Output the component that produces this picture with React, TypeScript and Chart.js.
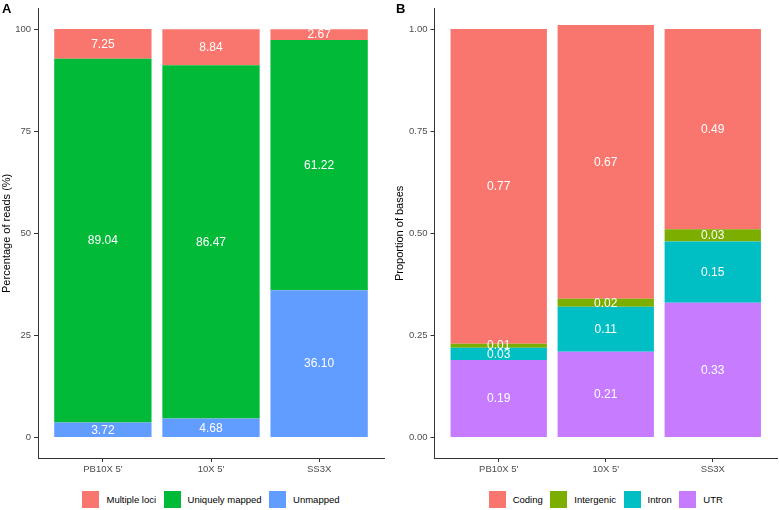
import React, { useEffect, useRef } from "react";
import { Chart, registerables } from "chart.js";

Chart.register(...registerables);

const FONT = "'Liberation Sans', Arial, Helvetica, sans-serif";

// Library preparations on the x axis
const samples = ["PB10X 5'", "10X 5'", "SS3X"];

// Panel A: read mapping (percentage of reads)
const readSeries = ["Multiple loci", "Uniquely mapped", "Unmapped"];
const readColors = ["#F8766D", "#00BA38", "#619CFF"];
const multipleLoci = [7.25, 8.84, 2.67];
const uniquelyMapped = [89.04, 86.47, 61.22];
const unmapped = [3.72, 4.68, 36.1];
const readTicks = [0, 25, 50, 75, 100];

// Panel B: base composition (proportion of bases)
const baseSeries = ["Coding", "Intergenic", "Intron", "UTR"];
const baseColors = ["#F8766D", "#7CAE00", "#00BFC4", "#C77CFF"];
const coding = [0.77, 0.67, 0.49];
const intergenic = [0.01, 0.02, 0.03];
const intron = [0.03, 0.11, 0.15];
const utr = [0.19, 0.21, 0.33];
const baseTicks = [0, 0.25, 0.5, 0.75, 1];

type Series = { name: string; color: string; values: number[] };

// white value text in the middle of every segment
const valueLabels = {
  id: "valueLabels",
  afterDatasetsDraw(chart: any) {
    const ctx = chart.ctx;
    ctx.save();
    ctx.fillStyle = "#ffffff";
    ctx.font = `12px ${FONT}`;
    ctx.textAlign = "center";
    ctx.textBaseline = "middle";
    chart.data.datasets.forEach((ds: any, di: number) => {
      const meta = chart.getDatasetMeta(di);
      meta.data.forEach((bar: any, i: number) => {
        const v = ds.data[i].y as number;
        ctx.fillText(v.toFixed(2), bar.x, (bar.y + bar.base) / 2 + 0.5);
      });
    });
    ctx.restore();
  },
};

type PanelProps = {
  tag: string;
  left: number;
  width: number;
  axisWidth: number;
  rightPad: number;
  yTitle: string;
  titlePad: number;
  yMin: number;
  yMax: number;
  ticks: number[];
  tickDigits: number;
  stack: Series[]; // bottom segment first
  legend: Series[];
};

const CANVAS_H = 476;
const PLOT_TOP = 2;
const PLOT_BOTTOM = 458;

function Panel(p: PanelProps) {
  const ref = useRef<HTMLCanvasElement | null>(null);

  useEffect(() => {
    if (!ref.current) return;
    const tickFont = { family: FONT, size: 9.5 };
    const chart = new Chart(ref.current, {
      type: "bar",
      data: {
        datasets: p.stack.map((s) => ({
          label: s.name,
          data: s.values.map((v, i) => ({ x: i + 1, y: v })),
          backgroundColor: s.color,
          borderWidth: 0,
          barPercentage: 0.9,
          categoryPercentage: 1,
        })),
      },
      options: {
        responsive: false,
        animation: false,
        devicePixelRatio: 1,
        layout: {
          autoPadding: false,
          padding: { top: PLOT_TOP, right: p.rightPad, bottom: 0, left: 0 },
        },
        plugins: { legend: { display: false }, tooltip: { enabled: false } },
        scales: {
          x: {
            type: "linear",
            stacked: true,
            offset: false,
            min: 0.4,
            max: samples.length + 0.6,
            afterBuildTicks: (s: any) => {
              s.ticks = samples.map((_, i) => ({ value: i + 1 }));
            },
            afterFit: (s: any) => {
              s.height = CANVAS_H - PLOT_BOTTOM;
            },
            ticks: {
              callback: (v: any) => samples[Number(v) - 1],
              color: "#4D4D4D",
              font: tickFont,
              padding: 2,
              maxRotation: 0,
              autoSkip: false,
            },
            grid: {
              offset: false,
              drawOnChartArea: false,
              drawTicks: true,
              tickLength: 4,
              color: "#333333",
            },
            border: { display: true, color: "#333333", width: 1 },
          },
          y: {
            type: "linear",
            stacked: true,
            min: p.yMin,
            max: p.yMax,
            afterBuildTicks: (s: any) => {
              s.ticks = p.ticks.map((v) => ({ value: v }));
            },
            afterFit: (s: any) => {
              s.width = p.axisWidth;
            },
            ticks: {
              callback: (v: any) => Number(v).toFixed(p.tickDigits),
              color: "#4D4D4D",
              font: tickFont,
              padding: 3,
            },
            title: {
              display: true,
              text: p.yTitle,
              color: "#000000",
              font: { family: FONT, size: 11, lineHeight: 1.2 },
              padding: { top: p.titlePad, bottom: 0 },
            },
            grid: { drawOnChartArea: false, drawTicks: true, tickLength: 4, color: "#333333" },
            border: { display: true, color: "#333333", width: 1 },
          },
        },
      } as any,
      plugins: [valueLabels],
    });
    return () => chart.destroy();
  }, []);

  const plotLeft = p.axisWidth;
  const plotWidth = p.width - p.axisWidth - p.rightPad;

  return (
    <div style={{ position: "absolute", left: p.left, top: 0, width: p.width, height: 510 }}>
      <canvas
        ref={ref}
        width={p.width}
        height={CANVAS_H}
        style={{ position: "absolute", left: 0, top: 0, width: p.width, height: CANVAS_H }}
      />
      <div
        style={{
          position: "absolute",
          left: p.tag === "A" ? 2 : 6,
          top: 1,
          fontFamily: FONT,
          fontWeight: "bold",
          fontSize: 13,
          lineHeight: "16px",
          color: "#000",
        }}
      >
        {p.tag}
      </div>
      <div
        style={{
          position: "absolute",
          left: plotLeft,
          top: 491,
          width: plotWidth,
          height: 17,
          display: "flex",
          justifyContent: "center",
          alignItems: "center",
          fontFamily: FONT,
          fontSize: 9.5,
          color: "#000",
          whiteSpace: "nowrap",
        }}
      >
        {p.legend.map((s, i) => (
          <div
            key={s.name}
            style={{ display: "flex", alignItems: "center", marginLeft: i ? 7.5 : 0 }}
          >
            <span
              style={{ display: "inline-block", width: 17, height: 17, background: s.color, marginRight: 7 }}
            />
            <span>{s.name}</span>
          </div>
        ))}
      </div>
    </div>
  );
}

export default function App() {
  const readStack: Series[] = [
    { name: readSeries[2], color: readColors[2], values: unmapped },
    { name: readSeries[1], color: readColors[1], values: uniquelyMapped },
    { name: readSeries[0], color: readColors[0], values: multipleLoci },
  ];
  const readLegend = readStack.slice().reverse();

  const baseStack: Series[] = [
    { name: baseSeries[3], color: baseColors[3], values: utr },
    { name: baseSeries[2], color: baseColors[2], values: intron },
    { name: baseSeries[1], color: baseColors[1], values: intergenic },
    { name: baseSeries[0], color: baseColors[0], values: coding },
  ];
  const baseLegend = baseStack.slice().reverse();

  return (
    <div
      style={{
        position: "absolute",
        left: 0,
        top: 0,
        width: 779,
        height: 510,
        background: "#ffffff",
        overflow: "hidden",
      }}
    >
      <Panel
        tag="A"
        left={0}
        width={390}
        axisWidth={38}
        rightPad={6}
        yTitle="Percentage of reads (%)"
        titlePad={0}
        yMin={-5}
        yMax={105}
        ticks={readTicks}
        tickDigits={0}
        stack={readStack}
        legend={readLegend}
      />
      <Panel
        tag="B"
        left={390}
        width={389}
        axisWidth={44.5}
        rightPad={2}
        yTitle="Proportion of bases"
        titlePad={3.5}
        yMin={-0.05}
        yMax={1.05}
        ticks={baseTicks}
        tickDigits={2}
        stack={baseStack}
        legend={baseLegend}
      />
    </div>
  );
}
